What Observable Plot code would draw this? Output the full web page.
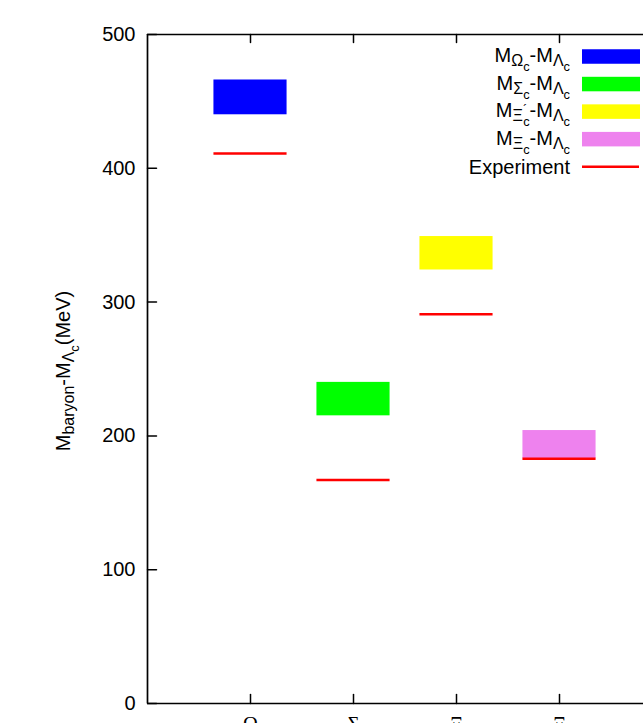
<!DOCTYPE html>
<html><head><meta charset="utf-8">
<script src="https://cdn.jsdelivr.net/npm/d3@7"></script>
<script src="https://cdn.jsdelivr.net/npm/@observablehq/plot@0.6"></script>
<style>html,body{margin:0;padding:0;background:#fff;overflow:hidden} svg{display:block}</style>
</head><body><div id="chart"></div>
<script>
// ---- data ----
const categories = ["Ω", "Σ", "Ξ", "Ξ"];
const categoryPrimed = [false, false, true, false];
const categoryPositions = [1, 2, 3, 4];
const lowerValues = [440, 215, 324, 183];
const upperValues = [466, 240, 349, 204];
const experimentValues = [411, 167, 291, 183];
const seriesColors = ["#0000ff", "#00ff00", "#ffff00", "#ee82ee"];
const legendBaryons = ["Ω", "Σ", "Ξ", "Ξ"];
const legendPrimed = [false, false, true, false];
const experimentLabel = "Experiment";
const experimentColor = "#ff0000";
const yTicks = [0, 100, 200, 300, 400, 500];

// ---- build ----
const boxes = categories.map((c, i) => ({
  cat: c, pos: categoryPositions[i], lo: lowerValues[i], hi: upperValues[i],
  color: seriesColors[i], exp: experimentValues[i]
}));
const halfWidth = 0.355;
const sans = "'Liberation Sans', Arial, Helvetica, sans-serif";
const serif = "'Liberation Serif', 'Times New Roman', serif";
const tickShape = {draw(context, l) { context.moveTo(0, 0); context.lineTo(0, -l); }};

const plot = Plot.plot({
  width: 643, height: 723,
  marginLeft: 147, marginRight: 0, marginTop: 34, marginBottom: 20,
  style: {fontFamily: sans, fontSize: "20px", color: "#000", background: "#fff", overflow: "hidden"},
  x: {domain: [0, 5], range: [147, 662], axis: null},
  y: {domain: [0, 500], axis: null},
  color: {type: "identity"},
  marks: [
    Plot.rect(boxes, {x1: d => d.pos - halfWidth, x2: d => d.pos + halfWidth, y1: "lo", y2: "hi", fill: "color"}),
    Plot.ruleY(boxes, {x1: d => d.pos - halfWidth, x2: d => d.pos + halfWidth, y: "exp", stroke: experimentColor, strokeWidth: 2.5}),
    Plot.ruleX([0], {strokeWidth: 1.7}),
    Plot.ruleY([0, 500], {strokeWidth: 1.7}),
    Plot.vector(yTicks, {x: 0, y: d => d, length: 9, rotate: 90, anchor: "start", shape: tickShape, strokeWidth: 1.5}),
    Plot.vector(categoryPositions, {x: d => d, y: 0, length: 9, rotate: 0, anchor: "start", shape: tickShape, strokeWidth: 1.5}),
    Plot.vector(categoryPositions, {x: d => d, y: 500, length: 8, rotate: 180, anchor: "start", shape: tickShape, strokeWidth: 1.5}),
    Plot.text(yTicks, {x: 0, y: d => d, text: d => String(d), textAnchor: "end", dx: -12, fontSize: 20}),
    Plot.text(boxes, {x: "pos", y: 0, text: "cat", lineAnchor: "bottom", dy: 27, fontFamily: serif, fontSize: 20, ariaLabel: "category-labels"})
  ]
});

const svg = d3.select(plot);

// subscripts on category labels
svg.selectAll("g[aria-label='category-labels'] text").each(function(d, i) {
  const t = d3.select(this);
  if (categoryPrimed[i]) {
    t.append("tspan").attr("font-size", 16).attr("dy", -9).text("´");
    t.append("tspan").attr("font-size", 16).attr("dx", -5).attr("dy", 15).text("c");
  } else {
    t.append("tspan").attr("font-size", 16).attr("dy", 6).text("c");
  }
});

// y-axis title
const yt = svg.append("text")
  .attr("transform", "translate(70,371) rotate(-90)")
  .attr("text-anchor", "middle").attr("font-family", sans).attr("font-size", 20).attr("fill", "#000");
yt.append("tspan").text("M");
yt.append("tspan").attr("font-size", 16).attr("dy", 4.3).text("baryon");
yt.append("tspan").attr("font-size", 20).attr("dy", -4.3).text("-M");
yt.append("tspan").attr("font-size", 16).attr("dy", 4.3).text("Λ");
yt.append("tspan").attr("font-size", 12.8).attr("dy", 4.7).text("c");
yt.append("tspan").attr("font-size", 20).attr("dy", -9).text("(MeV)");

// legend
const lg = svg.append("g").attr("font-family", sans).attr("font-size", 20).attr("fill", "#000");
const rowY = i => 56.5 + i * 27.55;
legendBaryons.forEach((b, i) => {
  const y = rowY(i);
  const t = lg.append("text").attr("x", 570).attr("y", y + 5.5).attr("text-anchor", "end");
  t.append("tspan").text("M");
  t.append("tspan").attr("font-size", 16).attr("dy", 4.3).text(b);
  if (legendPrimed[i]) {
    t.append("tspan").attr("font-size", 12.8).attr("dy", -7.5).text("´");
    t.append("tspan").attr("font-size", 12.8).attr("dx", -4).attr("dy", 12.2).text("c");
  } else {
    t.append("tspan").attr("font-size", 12.8).attr("dy", 4.7).text("c");
  }
  t.append("tspan").attr("font-size", 20).attr("dy", -9).text("-M");
  t.append("tspan").attr("font-size", 16).attr("dy", 4.3).text("Λ");
  t.append("tspan").attr("font-size", 12.8).attr("dy", 4.7).text("c");
  lg.append("rect").attr("x", 582).attr("y", y - 7.25).attr("width", 58).attr("height", 14.5).attr("fill", seriesColors[i]);
});
{
  const y = rowY(4);
  lg.append("text").attr("x", 570).attr("y", y + 6.8).attr("text-anchor", "end").text(experimentLabel);
  lg.append("line").attr("x1", 582).attr("x2", 639).attr("y1", y).attr("y2", y)
    .attr("stroke", experimentColor).attr("stroke-width", 2.5);
}

document.getElementById("chart").appendChild(plot);
</script>
</body></html>
